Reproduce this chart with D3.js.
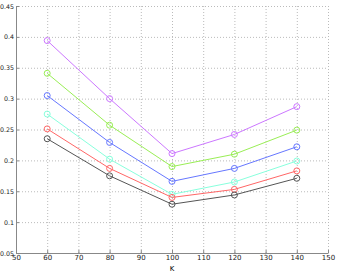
<!DOCTYPE html>
<html>
<head>
<meta charset="utf-8">
<script src="https://cdn.jsdelivr.net/npm/d3@7"></script>
<style>
body { margin: 0; background: #fff; }
svg { display: block; }
.axis text { font-family: "DejaVu Sans", sans-serif; font-size: 7px; fill: #222; }
.axis.yaxis text { font-size: 6.3px; }
.axis path, .axis line { stroke: #888; }
.grid line { stroke: #bbb; stroke-dasharray: 1,2; }
.grid path { display: none; }
</style>
</head>
<body>
<div id="chart"></div>
<script>
var kValues = [60, 80, 100, 120, 140];
var seriesColors = ["#cc77ff", "#99ee55", "#6677ff", "#88ffdd", "#ff6666", "#555555"];
var magenta = [0.394, 0.300, 0.211, 0.242, 0.287];
var green = [0.341, 0.257, 0.190, 0.210, 0.249];
var blue = [0.305, 0.229, 0.166, 0.187, 0.222];
var cyan = [0.275, 0.202, 0.145, 0.165, 0.199];
var red = [0.251, 0.187, 0.140, 0.153, 0.183];
var black = [0.235, 0.175, 0.129, 0.144, 0.171];
var allSeries = [magenta, green, blue, cyan, red, black];
var xTicks = [50, 60, 70, 80, 90, 100, 110, 120, 130, 140, 150];
var yTicks = [0.05, 0.1, 0.15, 0.2, 0.25, 0.3, 0.35, 0.4, 0.45];

var W = 337, H = 273;
var margin = {top: 6, right: 9, bottom: 20, left: 16};
var width = W - margin.left - margin.right,
    height = H - margin.top - margin.bottom;

var svg = d3.select("#chart").append("svg")
    .attr("width", W)
    .attr("height", H);

var g = svg.append("g")
    .attr("transform", "translate(" + margin.left + "," + margin.top + ")");

var x = d3.scaleLinear().domain([50, 150]).range([0, width]);
var y = d3.scaleLinear().domain([0.05, 0.45]).range([height, 0]);

// grid
g.append("g")
    .attr("class", "grid")
    .attr("transform", "translate(0," + height + ")")
    .call(d3.axisBottom(x).tickValues(xTicks.slice(1)).tickSize(-height).tickFormat(""));
g.append("g")
    .attr("class", "grid")
    .call(d3.axisLeft(y).tickValues(yTicks.slice(1)).tickSize(-width).tickFormat(""));

// axes
g.append("g")
    .attr("class", "axis")
    .attr("transform", "translate(0," + height + ")")
    .call(d3.axisBottom(x).tickValues(xTicks).tickSize(-3).tickPadding(2).tickSizeOuter(0));
g.append("g")
    .attr("class", "axis yaxis")
    .call(d3.axisLeft(y).tickValues(yTicks).tickSize(-3).tickPadding(2)
        .tickFormat(function (d) { return d3.format("")(+d.toFixed(2)); }).tickSizeOuter(0));

g.selectAll(".axis path").attr("stroke-width", 1);

svg.append("text")
    .attr("x", margin.left + x(100))
    .attr("y", 271)
    .attr("text-anchor", "middle")
    .style("font-family", "DejaVu Sans, sans-serif")
    .style("font-size", "7px")
    .text("K");

var line = d3.line()
    .x(function (d, i) { return x(kValues[i]); })
    .y(function (d) { return y(d); });

allSeries.forEach(function (s, j) {
    g.append("path")
        .datum(s)
        .attr("fill", "none")
        .attr("stroke", seriesColors[j])
        .attr("stroke-width", 1)
        .attr("d", line);
    g.selectAll(".pt" + j)
        .data(s)
        .enter().append("circle")
        .attr("class", "pt" + j)
        .attr("cx", function (d, i) { return x(kValues[i]); })
        .attr("cy", function (d) { return y(d); })
        .attr("r", 3)
        .attr("fill", "none")
        .attr("stroke", seriesColors[j])
        .attr("stroke-width", 1);
});
</script>
</body>
</html>
